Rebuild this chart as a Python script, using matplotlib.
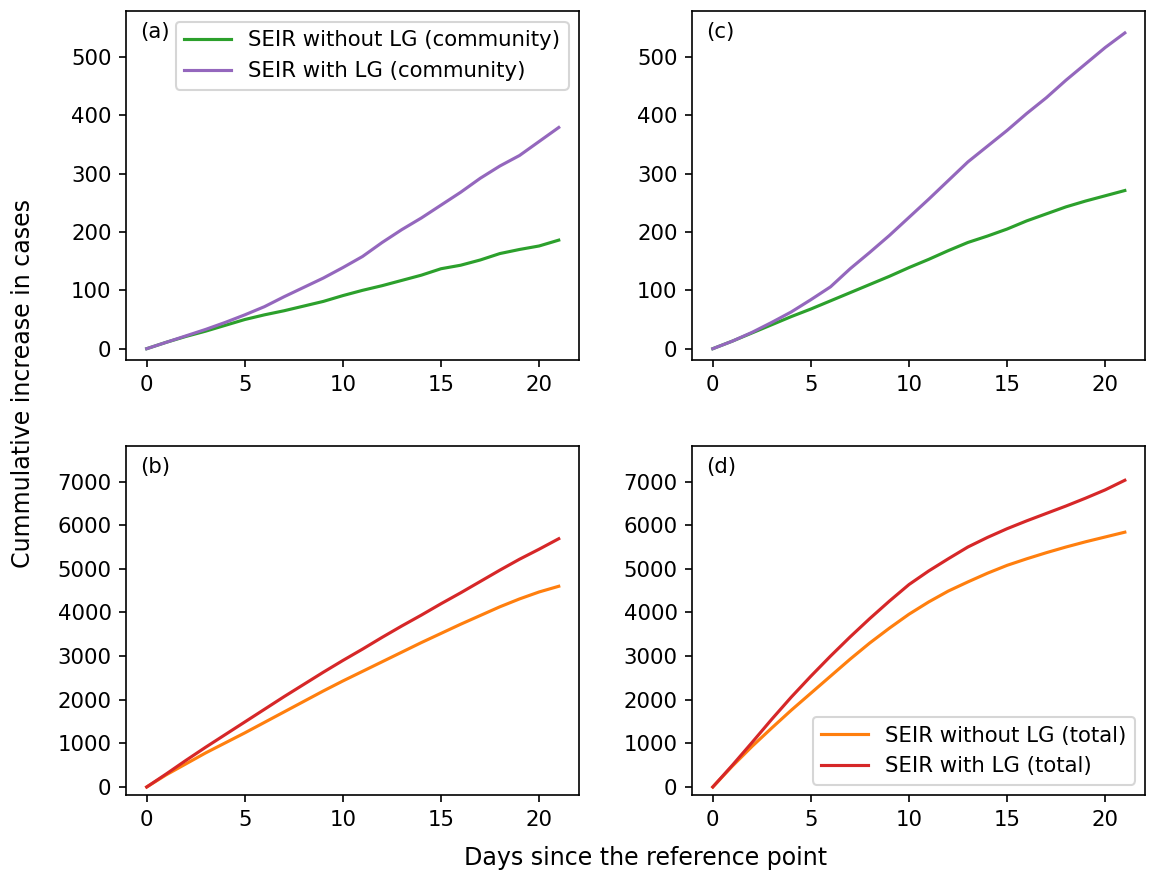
import matplotlib
matplotlib.use("Agg")
import matplotlib.pyplot as plt
import numpy as np

# ---------------------------- data ----------------------------
days = np.arange(22)

# (a) community
a_without = [0, 11, 21, 30, 40, 50, 58, 65, 73, 81, 91, 100, 108, 117, 126, 137,
             143, 152, 163, 170, 176, 186]
a_with = [0, 11, 22, 33, 45, 58, 72, 89, 105, 121, 139, 158, 182, 204, 224, 246,
          268, 292, 313, 331, 355, 379]

# (c) community
c_without = [0, 13, 27, 41, 55, 68, 82, 96, 110, 124, 139, 153, 168, 182, 193, 205,
             219, 231, 243, 253, 262, 271]
c_with = [0, 13, 28, 45, 63, 84, 106, 137, 165, 194, 225, 256, 288, 320, 347, 374,
          403, 430, 460, 488, 516, 541]

# (b) total
b_without = [0, 280, 530, 780, 1010, 1240, 1480, 1720, 1960, 2200, 2430, 2650, 2870,
             3090, 3310, 3520, 3730, 3930, 4130, 4310, 4470, 4600]
b_with = [0, 300, 610, 910, 1200, 1490, 1780, 2070, 2350, 2630, 2900, 3160, 3430,
          3690, 3940, 4200, 4450, 4710, 4970, 5220, 5450, 5690]

# (d) total
d_without = [0, 480, 930, 1350, 1760, 2150, 2540, 2930, 3300, 3640, 3960, 4240, 4490,
             4700, 4900, 5080, 5230, 5370, 5500, 5620, 5730, 5840]
d_with = [0, 500, 1020, 1550, 2060, 2540, 3000, 3440, 3860, 4260, 4640, 4950, 5230,
          5500, 5720, 5920, 6100, 6270, 6440, 6620, 6810, 7030]

# ---------------------------- plot ----------------------------
plt.rcParams["font.size"] = 10.2

fig, axs = plt.subplots(2, 2, figsize=(1157 / 150, 872 / 150), dpi=150)
fig.subplots_adjust(left=0.109, right=0.990, top=0.987, bottom=0.088,
                    wspace=0.249, hspace=0.246)

ax = axs[0, 0]
ax.plot(days, a_without, color="tab:green", label="SEIR without LG (community)")
ax.plot(days, a_with, color="tab:purple", label="SEIR with LG (community)")
ax.legend(loc="upper right", handlelength=2.2, handletextpad=0.8)
ax.text(0.03, 0.94, "(a)", transform=ax.transAxes, va="center")

ax = axs[0, 1]
ax.plot(days, c_without, color="tab:green")
ax.plot(days, c_with, color="tab:purple")
ax.text(0.03, 0.94, "(c)", transform=ax.transAxes, va="center")

ax = axs[1, 0]
ax.plot(days, b_without, color="tab:orange")
ax.plot(days, b_with, color="tab:red")
ax.text(0.03, 0.94, "(b)", transform=ax.transAxes, va="center")

ax = axs[1, 1]
ax.plot(days, d_without, color="tab:orange", label="SEIR without LG (total)")
ax.plot(days, d_with, color="tab:red", label="SEIR with LG (total)")
ax.legend(loc="lower right", handlelength=2.2, handletextpad=0.8)
ax.text(0.03, 0.94, "(d)", transform=ax.transAxes, va="center")

for ax in axs[0]:
    ax.set_ylim(-20, 578)
for ax in axs[1]:
    ax.set_ylim(-190, 7810)

fig.text(0.020, 0.560, "Cummulative increase in cases", rotation=90,
         ha="center", va="center", fontsize=11.4)
fig.text(0.558, 0.016, "Days since the reference point",
         ha="center", va="center", fontsize=11.4)

fig.savefig("out.png", dpi=150)
